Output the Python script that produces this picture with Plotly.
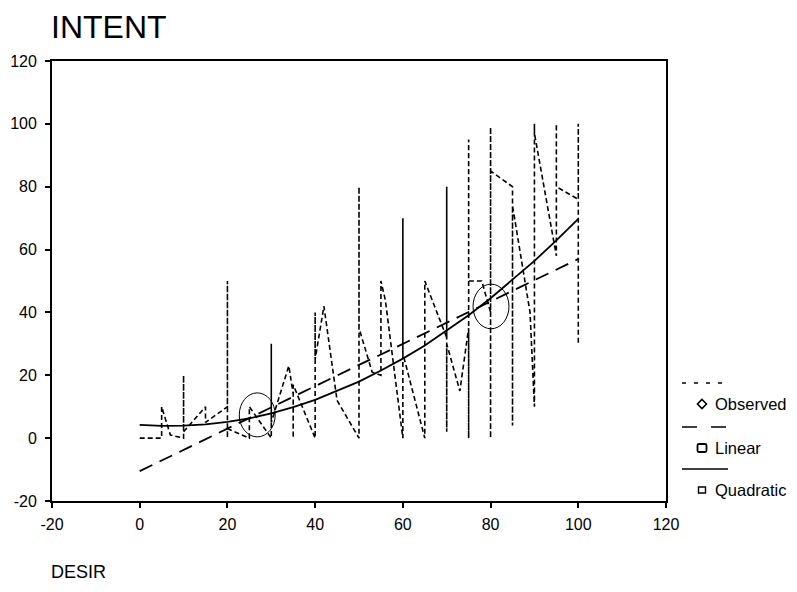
import plotly.graph_objects as go

# Observed DESIR / INTENT pairs, in the order the dotted line joins them
obs_x = [0, 5, 5, 7, 10, 10, 10, 15, 15, 20, 20, 20, 20, 25, 25, 30, 30, 30,
         34, 35, 35, 35, 40, 40, 40, 42, 44, 45, 50, 50, 50, 53, 55, 55, 56,
         60, 60, 60, 60, 65, 65, 70, 70, 70, 70, 73, 75, 75, 75, 75, 78,
         80, 80, 80, 80, 85, 85, 85, 89, 90, 90, 90, 95, 95, 95,
         100, 100, 100]
obs_y = [0, 0, 10, 1, 0, 20, 2, 10, 5, 10, 50, 0, 3, 0, 10, 0, 30, 5,
         23, 14, 0, 17, 0, 40, 25, 42, 22, 12, 0, 80, 35, 21, 20, 50, 44,
         0, 70, 25, 27, 0, 50, 32, 80, 2, 30, 15, 35, 0, 95, 50, 50,
         40, 99, 0, 85, 80, 4, 74, 40, 10, 100, 97, 58, 100, 80,
         76, 100, 30]

# Fitted curves
fit_x = [0, 5, 10, 15, 20, 25, 30, 35, 40, 45, 50, 55, 60, 65, 70, 75, 80,
         85, 90, 95, 100]
linear_y = [-10.5, -7.1, -3.8, -0.4, 3.0, 6.4, 9.8, 13.1, 16.5, 19.9, 23.3,
            26.6, 30.0, 33.4, 36.8, 40.1, 43.5, 46.9, 50.3, 53.6, 57.0]
quad_y = [4.2, 3.9, 4.0, 4.4, 5.2, 6.3, 7.9, 9.9, 12.2, 15.0, 18.0, 21.5,
          25.3, 29.5, 34.2, 39.1, 44.5, 50.3, 56.4, 62.9, 69.8]

ticks = [-20, 0, 20, 40, 60, 80, 100, 120]
legend_names = ["Observed", "Linear", "Quadratic"]

FONT = "Liberation Sans, Arial, sans-serif"

fig = go.Figure()
fig.add_trace(go.Scatter(x=obs_x, y=obs_y, mode="lines",
                         line=dict(color="black", width=1.6, dash="5px,3px"),
                         name=legend_names[0]))
fig.add_trace(go.Scatter(x=fit_x, y=linear_y, mode="lines",
                         line=dict(color="black", width=1.8, dash="14px,8px"),
                         name=legend_names[1]))
fig.add_trace(go.Scatter(x=fit_x, y=quad_y, mode="lines",
                         line=dict(color="black", width=1.8),
                         name=legend_names[2]))

# page offset of the figure (browser body margin)
OFF = 8
W, H = 797, 592
# target frame in page pixels: left 52, right 666, top 61, bottom 501
L, T = 52 - OFF, 61 - OFF
R = W - (666 - OFF)
B = H - (501 - OFF)
pw, ph = W - L - R, H - T - B


def px(xp):
    return (xp - OFF - L) / pw


def py(yp):
    return (H - B - (yp - OFF)) / ph


shapes = []
# hand-drawn ellipses
shapes.append(dict(type="circle", xref="x", yref="y", x0=22.7, x1=30.9,
                   y0=0.4, y1=14.4, line=dict(color="black", width=1)))
shapes.append(dict(type="circle", xref="x", yref="y", x0=76.0, x1=84.2,
                   y0=34.8, y1=49.0, line=dict(color="black", width=1)))

# legend line samples
dashes = ["4px,8px", "15px,14px", "solid"]
ys_line = [383, 427, 469]
for d, yl in zip(dashes, ys_line):
    shapes.append(dict(type="line", xref="paper", yref="paper",
                       x0=px(682), x1=px(728), y0=py(yl), y1=py(yl),
                       line=dict(color="black", width=1.5, dash=d)))

# legend symbols
ys_sym = [404, 448, 490]
sx = px(702)
shapes.append(dict(type="path", xref="paper", yref="paper",
                   xsizemode="pixel", ysizemode="pixel",
                   xanchor=sx, yanchor=py(ys_sym[0]),
                   path="M 0 4.5 L 4.5 0 L 0 -4.5 L -4.5 0 Z",
                   line=dict(color="black", width=1.6)))
shapes.append(dict(type="path", xref="paper", yref="paper",
                   xsizemode="pixel", ysizemode="pixel",
                   xanchor=sx, yanchor=py(ys_sym[1]),
                   path="M -3 4 L 3 4 Q 4.5 4 4.5 2.5 L 4.5 -2.5 Q 4.5 -4 3 -4 "
                        "L -3 -4 Q -4.5 -4 -4.5 -2.5 L -4.5 2.5 Q -4.5 4 -3 4 Z",
                   line=dict(color="black", width=1.8)))
shapes.append(dict(type="rect", xref="paper", yref="paper",
                   xsizemode="pixel", ysizemode="pixel",
                   xanchor=sx, yanchor=py(ys_sym[2]),
                   x0=-3.5, x1=3.5, y0=-3, y1=3,
                   line=dict(color="black", width=1.4)))

annotations = []
for name, ys in zip(legend_names, ys_sym):
    annotations.append(dict(text=name, xref="paper", yref="paper",
                            x=px(713), y=py(ys), xanchor="left",
                            yanchor="middle", showarrow=False,
                            font=dict(family=FONT, size=16.5, color="black")))

annotations.append(dict(text="INTENT", xref="paper", yref="paper",
                        x=px(49), y=py(7), xanchor="left", yanchor="top",
                        showarrow=False,
                        font=dict(family=FONT, size=32, color="black")))
annotations.append(dict(text="DESIR", xref="paper", yref="paper",
                        x=px(49), y=py(560), xanchor="left", yanchor="top",
                        showarrow=False,
                        font=dict(family=FONT, size=18, color="black")))

axis_common = dict(range=[-20, 120], tickvals=ticks,
                   ticktext=[str(t) for t in ticks],
                   showgrid=False, zeroline=False,
                   showline=True, linecolor="black", linewidth=1.8,
                   mirror=True, ticks="outside", ticklen=5,
                   tickwidth=1.5, tickcolor="black",
                   tickfont=dict(family=FONT, size=16, color="black"),
                   automargin=False, fixedrange=True)

fig.update_layout(
    width=W, height=H,
    margin=dict(l=L, r=R, t=T, b=B, pad=0, autoexpand=False),
    paper_bgcolor="white", plot_bgcolor="white",
    showlegend=False,
    xaxis=dict(**axis_common, ticklabelstandoff=3),
    yaxis=dict(**axis_common, ticklabelstandoff=5),
    shapes=shapes, annotations=annotations,
)

fig.write_html("out.html")
